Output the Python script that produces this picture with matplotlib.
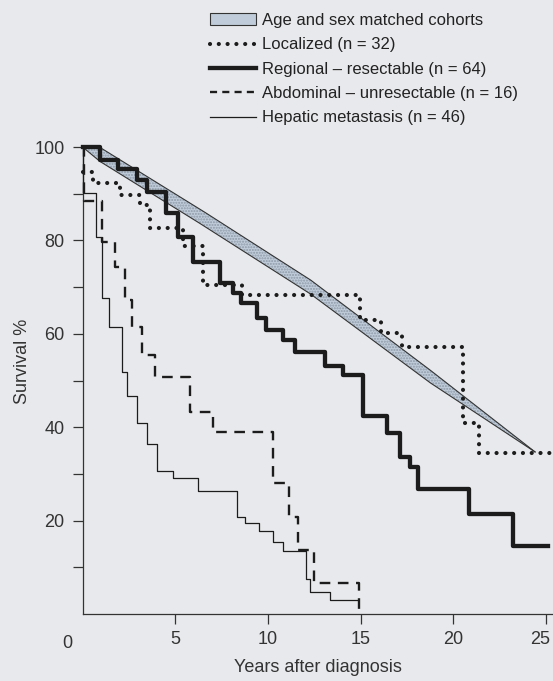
import numpy as np
import matplotlib
matplotlib.use("Agg")
import matplotlib.pyplot as plt
import matplotlib.transforms as mtransforms
from matplotlib.patches import Patch
from matplotlib.lines import Line2D

plt.rcParams["font.family"] = ["Liberation Sans", "DejaVu Sans"]

# ----------------------------------------------------------------------
# Data (years, survival %)
# ----------------------------------------------------------------------
band_up_t = [0, 0.9, 6.6, 12.3, 18.75, 24.4]
band_up_s = [100, 100, 86, 71.5, 52.2, 34.7]
band_lo_t = [0, 0.94, 6.3, 12.3, 18.75, 24.4]
band_lo_s = [100, 96.9, 83.7, 68.5, 49.5, 34.7]

loc_t = [0, 0.58, 2.02, 3.10, 3.64, 5.4, 6.51, 8.6, 14.96, 16.1, 17.21, 20.5, 21.4]
loc_s = [94.7, 92.2, 89.7, 87.6, 82.6, 78.8, 70.4, 68.4, 63.0, 60.2, 57.2, 41.0, 34.5]
loc_end = 25.3

reg_t = [0, 0.92, 1.93, 2.93, 3.47, 4.5, 5.12, 5.97, 7.41, 8.13, 8.55, 9.42, 9.87,
         10.83, 11.48, 13.07, 14.06, 15.14, 16.40, 17.12, 17.66, 18.11, 20.86, 23.23]
reg_s = [100, 97.3, 95.2, 92.9, 90.4, 85.9, 80.7, 75.4, 70.8, 68.7, 66.5, 63.3, 60.8,
         58.7, 56.2, 53.1, 51.2, 42.5, 38.7, 33.7, 31.5, 26.8, 21.4, 14.6]
reg_end = 25.1

abd_t = [0, 0.05, 1.03, 1.75, 2.3, 2.65, 3.19, 3.90, 5.79, 7.05, 10.29, 11.15, 11.63, 12.5, 14.93]
abd_s = [100, 88.5, 79.7, 74.4, 67.2, 61.5, 55.5, 50.8, 43.3, 39.0, 28.0, 20.7, 13.7, 6.6, 0]

hep_t = [0, 0.02, 0.7, 1.03, 1.41, 2.11, 2.38, 2.95, 3.49, 4.03, 4.89, 6.24, 8.31, 8.76,
         9.51, 10.29, 10.81, 12.05, 12.26, 13.34]
hep_s = [100, 90.2, 80.8, 67.6, 61.5, 51.9, 46.7, 41.0, 36.3, 30.6, 29.2, 26.4, 20.8, 19.4,
         17.8, 15.5, 13.4, 7.6, 4.8, 3.0]
hep_end = 14.87

labels = ["Age and sex matched cohorts", "Localized (n = 32)",
          "Regional \u2013 resectable (n = 64)", "Abdominal \u2013 unresectable (n = 16)",
          "Hepatic metastasis (n = 46)"]

BG = "#e8e9ec"
INK = "#1c1c1c"
BAND = "#c0ccda"
DOTS = (0, (0.01, 2.1))


def extend(t, s, end):
    # carry the last value to the end of follow-up
    return list(t) + [end], list(s) + [s[-1]]


fig = plt.figure(figsize=(5.53, 6.81), dpi=100, facecolor=BG)
ax = fig.add_axes([82.6 / 553, 67 / 681, 471 / 553, 467 / 681], facecolor=BG)

# cohort band
ax.fill(band_up_t + band_lo_t[::-1], band_up_s + band_lo_s[::-1],
        facecolor=BAND, edgecolor="#8d99a6", hatch="......", lw=0, zorder=2)
ax.plot(band_up_t, band_up_s, color="#333", lw=0.8, zorder=3)
ax.plot(band_lo_t, band_lo_s, color="#333", lw=0.8, zorder=3)

t, s = extend(loc_t, loc_s, loc_end)
ax.step(t, s, where="post", color=INK, lw=3.0, linestyle=DOTS,
        dash_capstyle="round", zorder=4, clip_on=False)
t, s = extend(reg_t, reg_s, reg_end)
ax.step(t, s, where="post", color=INK, lw=3.1, zorder=5, clip_on=False)
ax.step(abd_t, abd_s, where="post", color=INK, lw=1.7, linestyle=(0, (4.5, 3.2)),
        zorder=4, clip_on=False)
t, s = extend(hep_t, hep_s, hep_end)
ax.step(t, s, where="post", color=INK, lw=0.9, zorder=4, clip_on=False)

ax.set_xlim(0, 25.4)
ax.set_ylim(0, 100)
for side in ["top", "right"]:
    ax.spines[side].set_visible(False)
for side in ["left", "bottom"]:
    ax.spines[side].set_linewidth(0.9)
    ax.spines[side].set_color("#333")

ax.set_xticks([5, 10, 15, 20, 25])
ax.set_yticks([20, 40, 60, 80, 100])
ax.set_yticks([10, 30, 50, 70, 90], minor=True)
ax.tick_params(axis="both", which="both", direction="out", length=7, width=0.9,
               color="#333", labelsize=13, labelcolor="#333")
ax.tick_params(axis="y", pad=6)
ax.tick_params(axis="x", pad=5)
# the last x label sits a little left of its tick in the original
last = ax.get_xticklabels()[-1]
last.set_transform(last.get_transform() +
                   mtransforms.ScaledTranslation(-6 / 100, 0, fig.dpi_scale_trans))
ax.text(-0.85, -4.6, "0", ha="center", va="top", fontsize=13, color="#333")

ax.set_xlabel("Years after diagnosis", fontsize=13, color="#333", labelpad=8)
ax.set_ylabel("Survival %", fontsize=13, color="#333")
ax.yaxis.set_label_coords(-0.11, 0.54)

handles = [Patch(facecolor=BAND, edgecolor="#333", lw=0.8),
           Line2D([], [], color=INK, lw=3.0, linestyle=DOTS, dash_capstyle="round"),
           Line2D([], [], color=INK, lw=3.1),
           Line2D([], [], color=INK, lw=1.7, linestyle=(0, (3.0, 2.2))),
           Line2D([], [], color=INK, lw=0.9)]
fig.legend(handles, labels, loc="upper left", bbox_to_anchor=(210 / 553, 1 - 13 / 681),
           bbox_transform=fig.transFigure, frameon=False, fontsize=12,
           handlelength=2.75, handletextpad=0.35, labelspacing=0.56,
           borderpad=0, borderaxespad=0, labelcolor="#222")

fig.savefig("out.png", dpi=100, facecolor=BG)
